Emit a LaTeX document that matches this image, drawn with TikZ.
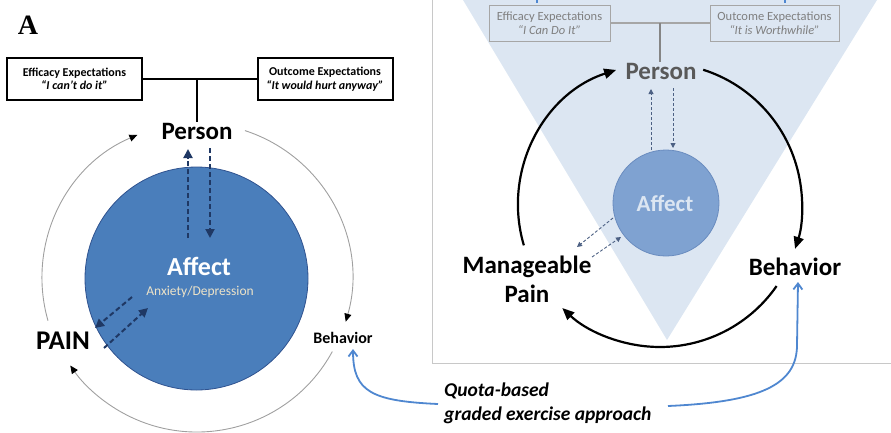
\documentclass[tikz,border=0pt]{standalone}
\usepackage{fontspec}
\setmainfont{Carlito}
\newfontfamily\serifA{Liberation Serif}
\usetikzlibrary{arrows.meta}
\definecolor{affblue}{HTML}{4A7EBB}
\definecolor{affbord}{HTML}{2F528F}
\definecolor{navy}{HTML}{1F3864}
\definecolor{curveblue}{HTML}{4F87D0}
\definecolor{trifill}{HTML}{DCE6F2}
\definecolor{raff}{HTML}{7FA2D1}
\definecolor{raffbord}{HTML}{6A8CBF}
\definecolor{boxgray}{HTML}{A6A6A6}
\definecolor{txtgray}{HTML}{7F7F7F}
\definecolor{persgray}{HTML}{595959}
\definecolor{anx}{HTML}{EDE3C8}
\definecolor{framegray}{HTML}{C8C8C8}
\definecolor{arcgray}{HTML}{A0A0A0}
\tikzset{
  lbox/.style={draw, line width=2pt, minimum width=135pt, minimum height=42pt, align=center, inner sep=1pt, font=\bfseries\fontsize{12}{13.5}\selectfont},
  rbox/.style={draw=boxgray, fill=trifill, line width=0.9pt, text=txtgray, minimum height=36pt, align=center, inner sep=1pt, font=\fontsize{12.5}{14}\selectfont},
  biglabel/.style={font=\bfseries\fontsize{25}{29}\selectfont, inner sep=1pt, align=center},
  outerarc/.style={arcgray, line width=0.9pt, -{Triangle[length=8pt,width=7pt,color=black]}, shorten >=-1pt},
  rarc/.style={black, line width=2.2pt, -{Triangle[length=12pt,width=10pt]}},
  ldash/.style={navy, line width=2pt, dash pattern=on 5pt off 3pt, -{Triangle[length=9pt,width=9pt]}},
  rdash/.style={navy!80!white, line width=0.9pt, dash pattern=on 3pt off 2pt, -{Triangle[length=5pt,width=5pt]}},
  bluecurve/.style={curveblue, line width=1.8pt, -{Straight Barb[length=6pt,width=9pt]}},
}
\begin{document}
\begin{tikzpicture}[x=1pt,y=-1pt]
\useasboundingbox (0,0) rectangle (891,432);
% ---------- right panel background ----------
\fill[trifill] (463,0) -- (877,0) -- (667,340) -- cycle;
\draw[framegray, line width=1pt] (432,0) -- (432,363) -- (891,363);
\draw[curveblue, line width=1.2pt] (537,0) -- (537,3);
\draw[curveblue, line width=1.2pt] (785,0) -- (785,3);

% ---------- left panel ----------
\node[font=\serifA\bfseries\fontsize{28}{30}\selectfont, inner sep=0] (A) at (28,25) {A};
\node[lbox] (leff) at (74.5,79) {Efficacy Expectations\\\textit{“I can’t do it”}};
\node[lbox] (lout) at (325,79) {Outcome Expectations\\\textit{“It would hurt anyway”}};
\coordinate (lj) at (197,79);
\draw[line width=2pt] (leff.east) -- (lout.west);
\node[biglabel] (lperson) at (197,131) {Person};
\draw[line width=2pt] (lj) -- (lj |- lperson.north);

\node[circle, fill=affblue, draw=affbord, line width=0.8pt, minimum size=223pt, inner sep=0] (laff) at (196.5,278.5) {};
\node[font=\bfseries\fontsize{26}{28}\selectfont, text=white, inner sep=0] (lafft) at (199,266) {Affect};
\node[font=\fontsize{13.5}{15}\selectfont, text=anx, inner sep=0] (lanx) at (200,292) {Anxiety/Depression};

\node[biglabel, font=\bfseries\fontsize{27}{29}\selectfont] (lpain) at (63,341) {PAIN};
\node[font=\bfseries\fontsize{16}{18}\selectfont, inner sep=0] (lbeh) at (343,338) {Behavior};

% outer thin circle arcs
\draw[outerarc] ([shift={(197,278)}]164:155) arc[start angle=164, end angle=247, radius=155];
\draw[outerarc] ([shift={(197,278)}]288:155) arc[start angle=288, end angle=376, radius=155];
\draw[outerarc] ([shift={(197,278)}]28.5:154) arc[start angle=28.5, end angle=145, radius=154];

% dashed arrows
\coordinate (lu1) at (188,238); \coordinate (lu2) at (188,149);
\coordinate (ld1) at (210,148); \coordinate (ld2) at (210,238);
\draw[ldash] (lu1) -- (lu2);
\draw[ldash] (ld1) -- (ld2);
\coordinate (lp1) at (132,297); \coordinate (lp2) at (95,328);
\coordinate (lp3) at (104,348); \coordinate (lp4) at (148,308);
\draw[ldash] (lp1) -- (lp2);
\draw[ldash] (lp3) -- (lp4);

% ---------- right panel ----------
\node[rbox, minimum width=121pt] (reff) at (549.5,23) {Efficacy Expectations\\\textit{“I Can Do It”}};
\node[rbox, minimum width=129pt] (rout) at (774.5,23) {Outcome Expectations\\\textit{“It is Worthwhile”}};
\draw[boxgray, line width=1.2pt] (reff.east) -- (rout.west);
\node[biglabel, text=persgray] (rperson) at (661,71) {Person};
\coordinate (rj) at (660,23);
\draw[boxgray!80!black, line width=1.2pt] (rj) -- (rj |- rperson.north);

\node[circle, fill=raff, draw=raffbord, line width=0.8pt, minimum size=106pt, inner sep=0] (raffc) at (666,203) {};
\node[font=\bfseries\fontsize{23}{25}\selectfont, text=trifill, inner sep=0] (rafft) at (665,203) {Affect};

\node[biglabel] (rpain) at (527,279) {Manageable\\Pain};
\node[biglabel] (rbeh) at (795,267) {Behavior};

\draw[rarc] ([shift={(660,205)}]163.5:142) arc[start angle=163.5, end angle=252, radius=142];
\draw[rarc] ([shift={(660,205)}]287.7:142) arc[start angle=287.7, end angle=378, radius=142];
\draw[rarc] ([shift={(660,205)}]34.8:142) arc[start angle=34.8, end angle=133.5, radius=142];

\coordinate (ru1) at (651,150); \coordinate (ru2) at (651,89);
\coordinate (rd1) at (673,88); \coordinate (rd2) at (673,148);
\draw[rdash] (ru1) -- (ru2);
\draw[rdash] (rd1) -- (rd2);
\coordinate (rp1) at (613,218); \coordinate (rp2) at (577,247);
\coordinate (rp3) at (592,257); \coordinate (rp4) at (621,237);
\draw[rdash] (rp1) -- (rp2);
\draw[rdash] (rp3) -- (rp4);

% ---------- quota text and blue curves ----------
\node[font=\bfseries\itshape\fontsize{19.5}{24}\selectfont, align=left, anchor=west, inner sep=0] (quota) at (444,403) {Quota-based\\graded exercise approach};
\coordinate (qa) at (438,404);
\coordinate (qb) at (668,406);
\coordinate (lbt) at (353,349);
\coordinate (rbt) at (798,282);
\draw[bluecurve] (qa) .. controls (372,401) and (353,392) .. (lbt);
\draw[bluecurve] (qb) .. controls (760,402) and (797,385) .. (797,345) -- (rbt);
\end{tikzpicture}
\end{document}
